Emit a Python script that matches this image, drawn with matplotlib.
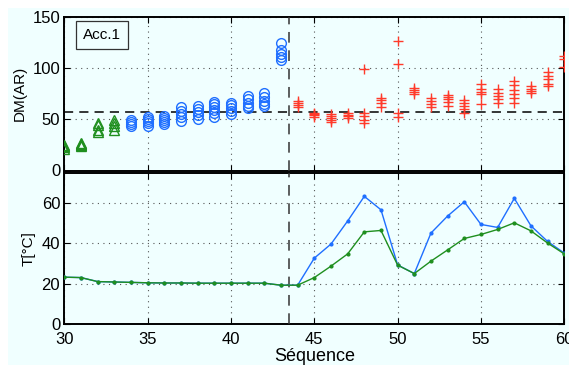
import matplotlib
matplotlib.use("Agg")
import matplotlib.pyplot as plt
from matplotlib.patches import Rectangle

plt.rcParams['font.family'] = ['Liberation Sans', 'DejaVu Sans']

# ---- data ----
seq_green = [30, 31, 32, 33]
dm_green = [[21, 23, 24, 25], [24, 25, 26, 27], [38, 40, 44, 46], [40, 43, 46, 49]]

seq_blue = [34, 35, 36, 37, 38, 39, 40, 41, 42, 43]
dm_blue = [[43, 45, 47, 49], [43, 46, 48, 50, 52], [45, 47, 49, 51, 53],
           [48, 52, 55, 58, 62], [50, 54, 57, 60, 63], [52, 56, 59, 62, 65, 67],
           [55, 58, 61, 64, 66], [61, 63, 66, 70, 73], [63, 65, 68, 72, 76],
           [108, 111, 114, 118, 125]]

seq_red = [44, 45, 46, 47, 48, 49, 50, 51, 52, 53, 54, 55, 56, 57, 58, 59, 60]
dm_red = [[62, 64, 66, 68], [52, 54, 55, 56], [47, 49, 51, 53, 55], [51, 53, 54, 56],
          [46, 49, 53, 56, 99], [62, 66, 69, 71], [52, 56, 104, 127], [75, 77, 79, 81],
          [62, 65, 68, 71], [63, 67, 70, 72, 74], [56, 60, 63, 66, 69],
          [65, 75, 77, 80, 85], [66, 70, 73, 76, 80], [66, 71, 75, 79, 84, 87],
          [76, 78, 80, 83], [83, 85, 89, 92, 96], [101, 109, 112]]

threshold = 57
split_seq = 43.5

seq_T = list(range(30, 61))
T_blue = [23.2, 23.0, 21.0, 20.8, 20.6, 20.4, 20.3, 20.3, 20.2, 20.2, 20.2, 20.2, 20.2, 19.2, 19.2,
          32.7, 39.7, 51.2, 63.5, 56.8, 29.3, 25.0, 45.2, 53.7, 60.8, 49.5, 48.0, 62.5, 48.8, 41.0, 35.2]
T_green = [23.2, 23.0, 21.0, 20.8, 20.6, 20.4, 20.3, 20.3, 20.2, 20.2, 20.2, 20.2, 20.2, 19.2, 19.2,
           23.0, 28.7, 34.8, 45.8, 46.5, 29.2, 25.0, 31.2, 36.8, 42.5, 44.5, 47.0, 50.3, 46.3, 40.2, 34.8]

GREEN = '#1f8f1f'
BLUE = '#1f6fff'
RED = '#ff3a2a'
BG = '#f0ffff'

W, H = 569, 365
fig = plt.figure(figsize=(W / 100, H / 100), dpi=100)
fig.patches.append(Rectangle((8 / W, 0), 1 - 8 / W, (H - 8) / H, transform=fig.transFigure,
                             facecolor=BG, edgecolor='none', zorder=-10))

ax1 = fig.add_axes([64.3 / W, (H - 170.5) / H, 500 / W, 153.5 / H])
ax2 = fig.add_axes([64.3 / W, (H - 323.7) / H, 500 / W, 150.4 / H])

for ax in (ax1, ax2):
    ax.set_facecolor(BG)
    for s in ax.spines.values():
        s.set_linewidth(1.4)
        s.set_color('black')
    ax.tick_params(direction='in', length=4, width=0.8, labelsize=12, pad=3,
                   top=True, right=True)
    ax.tick_params(axis='x', pad=6)
    ax.grid(True, linestyle=(0, (1, 4)), color='#555555', linewidth=0.8)
    ax.set_xlim(30, 60)
    ax.set_xticks([30, 35, 40, 45, 50, 55, 60])
    ax.axvline(split_seq, color='#333333', linestyle=(0, (7, 5)), linewidth=1.1, zorder=3)

# top panel
for x, vals in zip(seq_green, dm_green):
    ax1.plot([x] * len(vals), vals, linestyle='none', marker='^', markersize=6.5,
             markerfacecolor='none', markeredgecolor=GREEN, markeredgewidth=1.0, zorder=4)
for x, vals in zip(seq_blue, dm_blue):
    ax1.plot([x] * len(vals), vals, linestyle='none', marker='o', markersize=7,
             markerfacecolor='none', markeredgecolor=BLUE, markeredgewidth=1.0, zorder=4)
for x, vals in zip(seq_red, dm_red):
    ax1.plot([x] * len(vals), vals, linestyle='none', marker='+', markersize=7,
             markeredgecolor=RED, markeredgewidth=1.0, zorder=4)
ax1.axhline(threshold, color='black', linestyle=(0, (6, 4)), linewidth=1.1, zorder=3)
ax1.set_ylim(0, 150)
ax1.set_yticks([0, 50, 100, 150])
ax1.set_xticklabels([])
ax1.set_ylabel('DM(AR)', fontsize=11)
ax1.text(0.037, 0.885, 'Acc.1', transform=ax1.transAxes, fontsize=11, va='center', ha='left',
         bbox=dict(boxstyle='square,pad=0.45', facecolor=BG, edgecolor='#333333', linewidth=0.9))

# bottom panel
ax2.plot(seq_T, T_blue, color=BLUE, linewidth=1.0, marker='.', markersize=4, zorder=4)
ax2.plot(seq_T, T_green, color=GREEN, linewidth=1.0, marker='.', markersize=4, zorder=5)
ax2.set_ylim(0, 75)
ax2.set_yticks([0, 20, 40, 60])
ax2.set_ylabel('T[°C]', fontsize=11)
ax2.set_xlabel('Séquence', fontsize=13, labelpad=1)

fig.savefig('out.png', dpi=100)
